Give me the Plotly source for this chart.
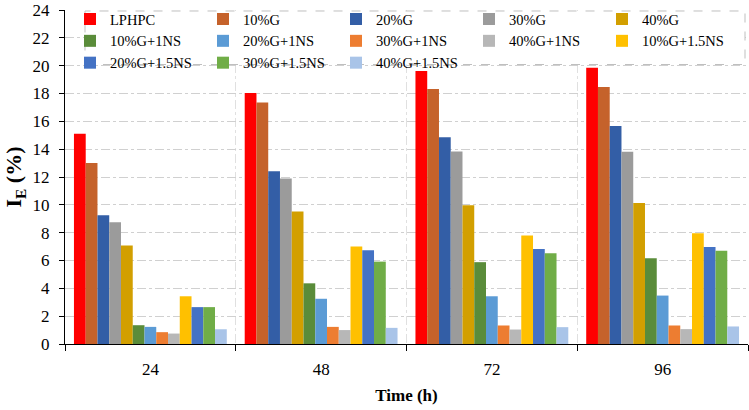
import plotly.graph_objects as go

times = ["24", "48", "72", "96"]
series_names = ["LPHPC", "10%G", "20%G", "30%G", "40%G",
                "10%G+1NS", "20%G+1NS", "30%G+1NS", "40%G+1NS",
                "10%G+1.5NS", "20%G+1.5NS", "30%G+1.5NS", "40%G+1.5NS"]
colors = ["#FF0000", "#C5622B", "#335EA6", "#9B9B9B", "#D29F00",
          "#5A8C3A", "#5B9BD5", "#ED7D31", "#B7B7B7",
          "#FFC000", "#4472C4", "#70AD47", "#A9C4E8"]

LPHPC = [15.1, 18.03, 19.62, 19.85]
G10 = [13.0, 17.36, 18.32, 18.46]
G20 = [9.26, 12.42, 14.85, 15.66]
G30 = [8.74, 11.9, 13.84, 13.82]
G40 = [7.08, 9.52, 9.97, 10.14]
G10_1NS = [1.35, 4.36, 5.88, 6.16]
G20_1NS = [1.23, 3.25, 3.43, 3.48]
G30_1NS = [0.85, 1.23, 1.33, 1.33]
G40_1NS = [0.75, 1.0, 1.04, 1.07]
G10_15NS = [3.43, 7.01, 7.8, 7.96]
G20_15NS = [2.65, 6.73, 6.82, 6.97]
G30_15NS = [2.65, 5.92, 6.52, 6.7]
G40_15NS = [1.06, 1.16, 1.21, 1.26]

series_values = [LPHPC, G10, G20, G30, G40, G10_1NS, G20_1NS, G30_1NS, G40_1NS,
                 G10_15NS, G20_15NS, G30_15NS, G40_15NS]

fig = go.Figure()
for name, vals, col in zip(series_names, series_values, colors):
    fig.add_trace(go.Bar(x=times, y=vals, name=name, marker=dict(color=col, line=dict(width=0))))

serif = "Liberation Serif"
fig.update_layout(
    width=749, height=410,
    margin=dict(l=65, r=1, t=7, b=66),
    paper_bgcolor="white", plot_bgcolor="white",
    barmode="group", bargap=0.105, bargroupgap=0,
    font=dict(family=serif, color="black", size=17),
    legend=dict(orientation="h", x=0.0073, xanchor="left", y=1.0208, yanchor="top",
                bgcolor="rgba(0,0,0,0)", borderwidth=0,
                font=dict(family=serif, size=14.5, color="black"),
                entrywidth=88, entrywidthmode="pixels",
                traceorder="normal"),
    xaxis=dict(showline=True, linecolor="black", linewidth=1,
               ticks="outside", tickson="boundaries", ticklen=6, tickcolor="black",
               showgrid=True, gridcolor="#E0E0E0", griddash="dashdot", gridwidth=1,
               tickfont=dict(size=17, family=serif), ticklabelstandoff=10,
               title=dict(text="<b>Time (h)</b>", font=dict(size=17, family=serif), standoff=10)),
    yaxis=dict(range=[0, 24], dtick=2, showline=True, linecolor="black", linewidth=1,
               ticks="outside", ticklen=5, tickcolor="black",
               showgrid=True, gridcolor="#D0D0D0", griddash="dashdot", gridwidth=1,
               zeroline=False, ticklabeloverflow="allow", ticklabelstandoff=6,
               tickfont=dict(size=17, family=serif),
               title=dict(text="<b>I<sub>E</sub> (%)</b>", font=dict(size=22, family=serif), standoff=4)),
    shapes=[dict(type="rect", xref="paper", yref="paper",
                 x0=(85 - 65) / 683, x1=(745 - 65) / 683, y0=(344 - 62) / 337, y1=(344 - 8) / 337,
                 line=dict(color="#BFBFBF", width=1, dash="dash"), fillcolor="white", layer="above")],
)

fig.write_html("out.html")
